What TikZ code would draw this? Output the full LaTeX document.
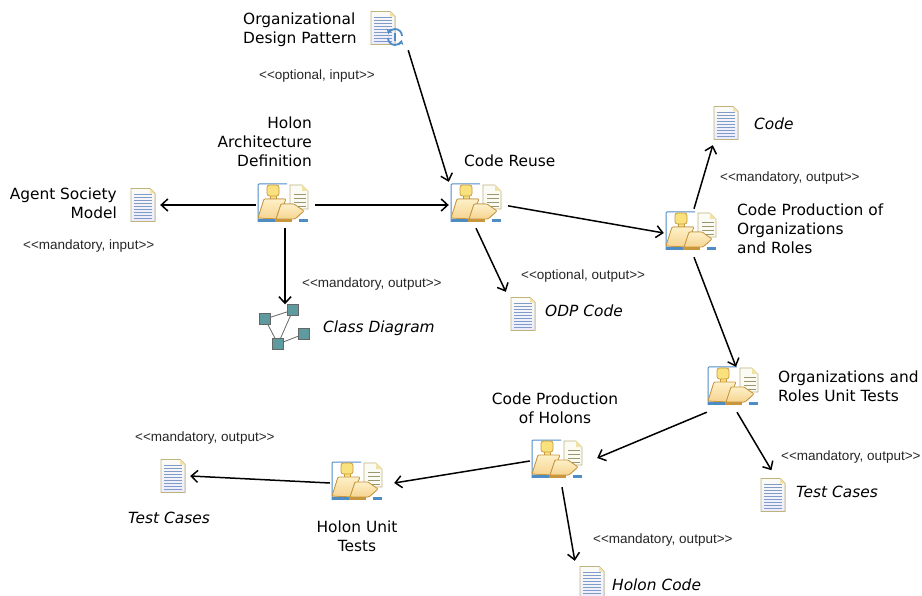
\documentclass[tikz,border=0pt]{standalone}
\usepackage{fontspec}
\setmainfont{DejaVu Sans}
\newfontfamily\stereofont{Liberation Sans}
\usetikzlibrary{arrows.meta}
\definecolor{framecol}{HTML}{4F8CC4}
\definecolor{headcol}{HTML}{F9E27E}
\definecolor{bodytop}{HTML}{FDF0C8}
\definecolor{bodybot}{HTML}{F6D490}
\definecolor{edgecol}{HTML}{C8963C}
\definecolor{pagecol}{HTML}{FBFBF6}
\definecolor{pageedge}{HTML}{BFB27A}
\definecolor{foldcol}{HTML}{F2E2A8}
\definecolor{linecol}{HTML}{7F9CC8}
\definecolor{squarecol}{HTML}{5F9A9E}
\tikzset{
  title/.style={font=\fontsize{15.4}{19}\selectfont,inner sep=0pt},
  worktitle/.style={font=\fontsize{15.4}{19}\selectfont\itshape,inner sep=0pt},
  stereo/.style={font=\stereofont\fontsize{13.5}{16}\selectfont,inner sep=0pt,text=black!85},
  taskbox/.style={minimum width=54pt,minimum height=46pt,inner sep=0pt},
  docbox/.style={minimum width=34pt,minimum height=44pt,inner sep=0pt},
  square/.style={draw=black!60,fill=squarecol,minimum size=11pt,inner sep=0pt},
  link/.style={->,>={Straight Barb[length=6.5pt,width=12pt]},line width=1.5pt},
  pics/taskicon/.style={code={
    \draw[framecol,line width=1pt] (-25,19) -- (-25,-17) [rounded corners=1pt] -- (-25,-19) -- (4,-19);
    \fill[pagecol,draw=pageedge,line width=.6pt] (7,6) -- (7,-18) -- (19,-18) -- (25,-12) -- (25,6) -- cycle;
    \fill[foldcol] (19,-18) -- (25,-12) -- (19,-12) -- cycle;
    \foreach \y in {-9,-5,-1,3} \draw[black!50!olive!60,line width=.8pt] (11,\y) -- (23,\y);
    \fill[headcol,draw=edgecol,line width=.7pt] (-13,-8) rectangle (-7,-3);
    \fill[headcol,draw=edgecol,line width=.7pt,rounded corners=2.5pt] (-16,-18) rectangle (-4,-7);
    \fill[top color=bodytop,bottom color=bodybot,draw=edgecol,line width=.8pt,rounded corners=1pt] (-19,-4) -- (3,-4) -- (-5,16) -- (-25,15) -- cycle;
    \fill[top color=bodytop,bottom color=bodybot,draw=edgecol,line width=.8pt,rounded corners=1pt] (-2,1) -- (11,1) -- (21,8) -- (12,16) -- (-7,16) -- cycle;
    \fill[framecol] (-25,16) rectangle (-8,19);
    \fill[edgecol] (-8,16) rectangle (9,19);
    \fill[framecol] (16,16) rectangle (25,19);
  }},
  pics/docicon/.style={code={
    \fill[top color=pagecol,bottom color=blue!8,draw=pageedge,line width=.8pt] (-12,-16.5) -- (7,-16.5) -- (12,-11.5) -- (12,16.5) -- (-12,16.5) -- cycle;
    \fill[foldcol] (7,-16.5) -- (12,-11.5) -- (7,-11.5) -- cycle;
    \foreach \y in {-11,-8,-5,-2,1,4,7,10,13} \draw[linecol,line width=.8pt] (-9,\y) -- (9,\y);
  }},
  pics/cycleicon/.style={code={
    \draw[framecol,line width=1.8pt,->,>={Stealth[length=5pt,width=6pt]}] (-7,1) arc (180:15:7);
    \draw[framecol,line width=1.8pt,->,>={Stealth[length=5pt,width=6pt]}] (7,-1) arc (0:-165:7);
    \draw[framecol,line width=1.2pt] (0,-4) -- (0,4);
  }},
}
\begin{document}
\begin{tikzpicture}[x=1pt,y=-1pt]
\useasboundingbox (0,0) rectangle (922,596);
\clip (0,0) rectangle (922,596);
% tasks
\node[taskbox] (holon) at (283,205) {};
\node[taskbox] (reuse) at (476,205) {};
\node[taskbox] (orgcode) at (691,233) {};
\node[taskbox] (orgtests) at (733,388) {};
\node[taskbox] (holoncode) at (557,461) {};
\node[taskbox] (holontests) at (357,483) {};
\pic at ([yshift=2pt]holon) {taskicon};
\pic at ([yshift=2pt]reuse) {taskicon};
\pic at ([yshift=2pt]orgcode) {taskicon};
\pic at ([yshift=2pt]orgtests) {taskicon};
\pic at ([yshift=2pt]holoncode) {taskicon};
\pic at ([yshift=2pt]holontests) {taskicon};
% work products
\node[docbox] (pattern) at (383,28) {};
\node[docbox] (society) at (143,205) {};
\node[docbox] (codedoc) at (726,123) {};
\node[docbox] (odpdoc) at (523,314) {};
\node[docbox] (testdoc) at (773,495) {};
\node[docbox] (holondoc) at (592,583) {};
\node[docbox] (testdocb) at (173,476) {};
\pic at (pattern) {docicon};
\pic at (society) {docicon};
\pic at (codedoc) {docicon};
\pic at (odpdoc) {docicon};
\pic at (testdoc) {docicon};
\pic at (holondoc) {docicon};
\pic at (testdocb) {docicon};
\pic at (395,37) {cycleicon};
% class diagram
\node[square] (clsa) at (265,319) {};
\node[square] (clsb) at (293,310) {};
\node[square] (clsc) at (278,344) {};
\node[square] (clsd) at (304,334) {};
\draw[black!60,line width=.8pt] (clsa) -- (clsb);
\draw[black!60,line width=.8pt] (clsa) -- (clsc);
\draw[black!60,line width=.8pt] (clsb) -- (clsc);
\draw[black!60,line width=.8pt] (clsc) -- (clsd);
% connectors
\draw[link] (holon.west) -- (society.east);
\draw[link,shorten <=5pt] (holon.east) -- (reuse.west);
\draw[link] ([xshift=2pt]holon.south) -- ([xshift=2pt]holon.south |- clsb.north);
\draw[link] ([xshift=8pt]pattern.south east) -- (reuse.north west);
\draw[link,shorten <=5pt] (reuse.east) -- (orgcode.west);
\draw[link] (reuse.south) -- (odpdoc.north west);
\draw[link] ([xshift=3pt,yshift=1pt]orgcode.north) -- ([xshift=4pt]codedoc.south west);
\draw[link] ([xshift=3pt,yshift=-1pt]orgcode.south) -- ([xshift=3pt,yshift=-2pt]orgtests.north);
\draw[link] ([xshift=1pt,yshift=-1pt]orgtests.south west) -- ([xshift=13pt,yshift=3pt]holoncode.east);
\draw[link,shorten >=3pt] ([xshift=4pt,yshift=-1pt]orgtests.south) -- (testdoc.north);
\draw[link] (holoncode.west) -- ([xshift=10pt]holontests.east);
\draw[link] ([xshift=5pt,yshift=-3pt]holoncode.south) -- (holondoc.north west);
\draw[link] (holontests.west) -- (testdocb.east);
% labels
\node[title,align=left,anchor=west] (patternlab) at (243,29.5) {Organizational\\Design Pattern};
\node[title,align=right,anchor=east] (holonlab) at (312,142) {Holon\\Architecture\hspace*{4pt}\\Definition};
\node[title,align=right,anchor=east] (societylab) at (117,203) {Agent Society\\Model};
\node[title,anchor=west] (reuselab) at (464,161) {Code Reuse};
\node[title,align=left,anchor=west] (orgcodelab) at (737,229) {Code Production of\\Organizations\\and Roles};
\node[title,align=left,anchor=west] (orgtestslab) at (778,386.5) {Organizations and\\Roles Unit Tests};
\node[title,align=center] (holoncodelab) at (555,408) {Code Production\\of Holons};
\node[title,align=center] (holontestslab) at (357,536) {Holon Unit\\Tests};
\node[worktitle,anchor=west] (codelab) at (754,124) {Code};
\node[worktitle,anchor=west] (classlab) at (323,328) {Class Diagram};
\node[worktitle,anchor=west] (odplab) at (545,311) {ODP Code};
\node[worktitle,anchor=west] (testlab) at (796,492) {Test Cases};
\node[worktitle,anchor=west] (holondoclab) at (612,585) {Holon Code};
\node[worktitle,anchor=west] (testblab) at (128,518) {Test Cases};
\node[stereo,anchor=west] (patternst) at (259,76) {<<optional, input>>};
\node[stereo,anchor=west] (societyst) at (23,246) {<<mandatory, input>>};
\node[stereo,anchor=west] (classst) at (302,284) {<<mandatory, output>>};
\node[stereo,anchor=west] (odpst) at (521,276) {<<optional, output>>};
\node[stereo,anchor=west] (codest) at (720,178) {<<mandatory, output>>};
\node[stereo,anchor=west] (testst) at (781,457) {<<mandatory, output>>};
\node[stereo,anchor=west] (holondocst) at (593,540) {<<mandatory, output>>};
\node[stereo,anchor=west] (testbst) at (135,438) {<<mandatory, output>>};
\end{tikzpicture}
\end{document}
